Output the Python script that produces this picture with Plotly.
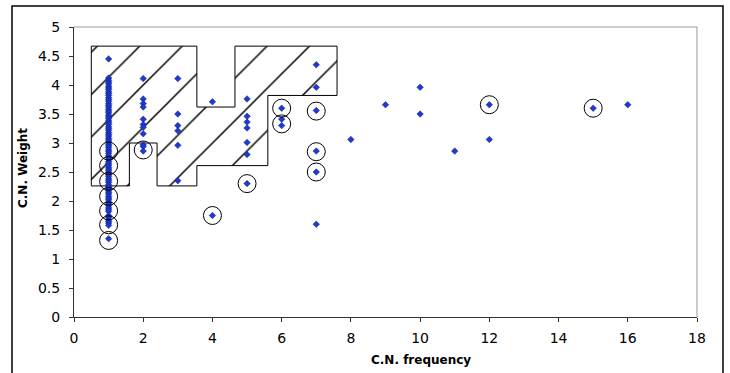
import plotly.graph_objects as go

# ---- data ----
col1_weight = [4.45, 4.12, 4.08, 4.05, 4.02, 3.98, 3.95, 3.92, 3.88, 3.85, 3.82, 3.78,
               3.75, 3.72, 3.68, 3.65, 3.62, 3.58, 3.55, 3.52, 3.48, 3.45, 3.42, 3.38,
               3.35, 3.32, 3.28, 3.25, 3.22, 3.18, 3.15, 3.12, 3.08, 3.05, 3.02, 2.98,
               2.95, 2.92, 2.88, 2.85, 2.82, 2.78, 2.75, 2.72, 2.68, 2.65, 2.62, 2.58,
               2.55, 2.52, 2.48, 2.45, 2.42, 2.38, 2.35, 2.32, 2.28, 2.25, 2.22, 2.18,
               2.15, 2.12, 2.08, 2.05, 2.02, 1.98, 1.95, 1.92, 1.88, 1.85, 1.82, 1.75,
               1.72, 1.68, 1.65, 1.62, 1.58, 1.35]
other_freq = [2, 2, 2, 2, 2, 2, 2, 2, 2, 2, 2,
              3, 3, 3, 3, 3, 3,
              4, 4,
              5, 5, 5, 5, 5, 5, 5,
              6, 6, 6,
              7, 7, 7, 7, 7, 7,
              8, 9, 10, 10, 11, 12, 12, 15, 16]
other_weight = [4.11, 3.76, 3.68, 3.62, 3.41, 3.32, 3.27, 3.16, 2.97, 2.94, 2.86,
                4.11, 3.50, 3.30, 3.21, 2.96, 2.35,
                3.71, 1.75,
                3.76, 3.46, 3.36, 3.26, 3.01, 2.80, 2.30,
                3.60, 3.41, 3.30,
                4.35, 3.96, 3.56, 2.86, 2.50, 1.60,
                3.06, 3.66, 3.96, 3.50, 2.86, 3.66, 3.06, 3.60, 3.66]

circled_freq = [1, 1, 1, 1, 1, 1, 1, 2, 4, 5, 6, 6, 7, 7, 7, 12, 15]
circled_weight = [2.86, 2.61, 2.34, 2.08, 1.83, 1.59, 1.32, 2.88, 1.75, 2.30,
                  3.60, 3.33, 3.55, 2.85, 2.50, 3.66, 3.60]

region_freq = [0.5, 3.55, 3.55, 4.65, 4.65, 7.6, 7.6, 5.6, 5.6, 3.55, 3.55, 2.4, 2.4, 1.6, 1.6, 0.5, 0.5]
region_weight = [4.67, 4.67, 3.62, 3.62, 4.67, 4.67, 3.82, 3.82, 2.61, 2.61, 2.26, 2.26, 3.0, 3.0, 2.26, 2.26, 4.67]

x_ticks = [0, 2, 4, 6, 8, 10, 12, 14, 16, 18]
y_ticks = [0, 0.5, 1, 1.5, 2, 2.5, 3, 3.5, 4, 4.5, 5]

FONT = "DejaVu Sans, Verdana, sans-serif"

W, H = 730, 373
L, R, T, B = 74, 33, 27, 56
PW, PH = W - L - R, H - T - B


def px(xp):
    return (xp - L) / PW


def py(yp):
    return (H - B - yp) / PH


fig = go.Figure()

fig.add_trace(go.Scatter(
    x=region_freq, y=region_weight, mode="lines", fill="toself",
    line=dict(color="black", width=1),
    fillcolor="white",
    fillpattern=dict(shape="/", size=30, solidity=0.05, fgcolor="black", bgcolor="white",
                     fgopacity=1, fillmode="replace"),
    hoverinfo="skip", showlegend=False,
))

fig.add_trace(go.Scatter(
    x=[1] * len(col1_weight) + other_freq, y=col1_weight + other_weight,
    mode="markers",
    marker=dict(symbol="diamond", size=5, color="#1f3acc", line=dict(color="#0a1a90", width=0.5)),
    showlegend=False,
))

fig.add_trace(go.Scatter(
    x=circled_freq, y=circled_weight, mode="markers",
    marker=dict(symbol="circle-open", size=18, color="black", line=dict(color="black", width=1)),
    showlegend=False,
))

fig.update_layout(
    width=W, height=H,
    margin=dict(l=L, r=R, t=T, b=B),
    paper_bgcolor="white", plot_bgcolor="white",
    font=dict(family=FONT, size=14, color="black"),
    xaxis=dict(range=[0, 18], tickvals=x_ticks, ticktext=[str(v) for v in x_ticks],
               showgrid=False, zeroline=False, showline=True, linecolor="#333333", linewidth=1,
               ticks="outside", ticklen=4, tickcolor="#333333", ticklabelstandoff=4),
    yaxis=dict(range=[0, 5], tickvals=y_ticks, ticktext=[f"{v:g}" for v in y_ticks],
               showgrid=False, zeroline=False, showline=True, linecolor="#333333", linewidth=1,
               ticks="outside", ticklen=4, tickcolor="#333333", ticklabelstandoff=6),
    shapes=[
        dict(type="line", xref="paper", yref="paper", x0=0, x1=1, y0=1, y1=1,
             line=dict(color="#999999", width=1)),
        dict(type="line", xref="paper", yref="paper", x0=1, x1=1, y0=0, y1=1,
             line=dict(color="#999999", width=1)),
        dict(type="rect", xref="paper", yref="paper",
             x0=px(12), x1=px(723), y0=py(380), y1=py(6),
             line=dict(color="black", width=1.5)),
    ],
    annotations=[
        dict(text="<b>C.N. frequency</b>", xref="paper", yref="paper",
             x=px(421), y=py(360), showarrow=False,
             font=dict(family=FONT, size=12), xanchor="center", yanchor="middle"),
        dict(text="<b>C.N. Weight</b>", xref="paper", yref="paper",
             x=px(23), y=py(168), showarrow=False, textangle=-90,
             font=dict(family=FONT, size=12), xanchor="center", yanchor="middle"),
    ],
)

fig.write_html(
    "out.html",
    config={"displayModeBar": False},
    post_script="document.body.style.margin='0';document.body.style.overflow='hidden';",
)
